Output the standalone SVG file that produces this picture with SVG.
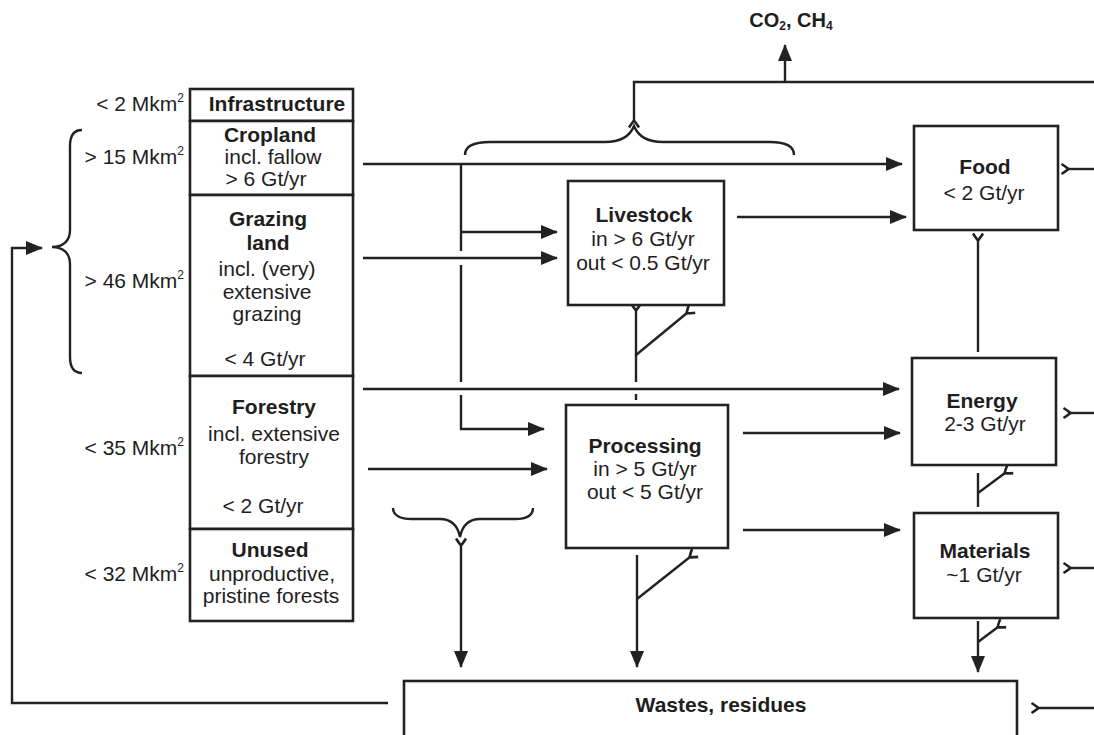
<svg xmlns="http://www.w3.org/2000/svg" width="1094" height="735" viewBox="0 0 1094 735">
<style>
text{font-family:"Liberation Sans",Arial,sans-serif;font-size:21px;fill:#1e1e1e;text-anchor:middle}
.b{font-weight:bold}
.lab{text-anchor:end}
.box{fill:#fff;stroke:#222;stroke-width:2.6}
.ln{fill:none;stroke:#222;stroke-width:2.4}
.ar{marker-end:url(#ah)}
.tl{marker-start:url(#tail)}
</style>
<defs>
<marker id="ah" markerUnits="userSpaceOnUse" markerWidth="20" markerHeight="16" refX="16" refY="7" orient="auto" overflow="visible">
<path d="M0,0 L17,7 L0,14 z" fill="#222"/>
</marker>
<marker id="tail" markerUnits="userSpaceOnUse" markerWidth="12" markerHeight="12" refX="8" refY="6" orient="auto" overflow="visible">
<path d="M1.5,1 Q5.5,3.5 8.5,6 Q5.5,8.5 1.5,11" fill="none" stroke="#222" stroke-width="2.6"/>
</marker>
</defs>

<g id="connectors">
<!-- return loop -->
<path class="ln ar" d="M388,703 H12 V248 H42"/>
<!-- left brace -->
<path class="ln" d="M82,130 C74,130 70,136 70,146 L70,230 C70,241 63,247 52,247 C63,247 70,253 70,264 L70,357 C70,367 74,373 82,373"/>
<!-- cropland to food -->
<path class="ln ar" d="M363,164 H902"/>
<path class="ln" d="M461,164 V251"/>
<path class="ln" d="M461,265 V382"/>
<path class="ln ar" d="M461,395 V429 H544"/>
<path class="ln ar" d="M461,232 H557"/>
<!-- grazing to livestock -->
<path class="ln ar" d="M363,258 H557"/>
<!-- livestock to food -->
<path class="ln ar" d="M737,217 H906"/>
<!-- forestry to energy -->
<path class="ln ar" d="M363,389 H899"/>
<!-- forestry to processing -->
<path class="ln ar" d="M368,469 H547"/>
<!-- processing to energy/materials -->
<path class="ln ar" d="M743,433 H900"/>
<path class="ln ar" d="M743,530 H900"/>
<!-- livestock bottom -->
<path class="ln tl" d="M636,310 V382"/>
<path class="ln" d="M636,394 V400"/>
<path class="ln tl" d="M687,313 L636,355"/>
<!-- food to energy -->
<path class="ln tl" d="M978,240 V352"/>
<!-- energy to materials -->
<path class="ln" d="M978,473 V507"/>
<path class="ln tl" d="M1005,473 L978,493"/>
<!-- materials to wastes -->
<path class="ln ar" d="M978,621 V672"/>
<path class="ln tl" d="M998,627 L978,642"/>
<!-- processing to wastes -->
<path class="ln ar" d="M637,555 V667"/>
<path class="ln tl" d="M690,557 L637,599"/>
<!-- bottom brace to wastes -->
<path class="ln" d="M393,508 C393,515 400,519 412,519 L440,519 C452,519 458,527 460,537 C462,527 468,519 480,519 L515,519 C527,519 533,515 533,508"/>
<path class="ln ar tl" d="M461,545 V667"/>
<!-- top brace and emissions -->
<path class="ln" d="M465,155 C465,146 474,142 490,142 L605,142 C622,142 630,136 634,126 C638,136 646,142 663,142 L770,142 C786,142 794,146 794,155"/>
<path class="ln tl" d="M634,121 V82 H1094"/>
<path class="ln ar" d="M785,82 V45"/>
<!-- right outflows -->
<path class="ln tl" d="M1068,169 H1094"/>
<path class="ln tl" d="M1070,413 H1094"/>
<path class="ln tl" d="M1070,568 H1094"/>
<path class="ln tl" d="M1038,708 H1094"/>
</g>

<g id="emissions">
<text class="b" x="791" y="27" style="font-size:20px">CO<tspan style="font-size:12px" dy="3">2</tspan><tspan dy="-3">, CH</tspan><tspan style="font-size:12px" dy="3">4</tspan></text>
</g>

<g id="infrastructure">
<rect class="box" x="190" y="89" width="163" height="32"/>
<text class="b" x="277" y="111">Infrastructure</text>
<text class="lab" x="184" y="111">&lt; 2 Mkm<tspan style="font-size:12px" dy="-9">2</tspan></text>
</g>
<g id="cropland">
<rect class="box" x="190" y="121" width="163" height="74"/>
<text class="b" x="270" y="142">Cropland</text>
<text x="273" y="164">incl. fallow</text>
<text x="266" y="186">&gt; 6 Gt/yr</text>
<text class="lab" x="184" y="164">&gt; 15 Mkm<tspan style="font-size:12px" dy="-9">2</tspan></text>
</g>
<g id="grazing">
<rect class="box" x="190" y="195" width="163" height="181"/>
<text class="b" x="268" y="226">Grazing</text>
<text class="b" x="268" y="250">land</text>
<text x="267" y="276">incl. (very)</text>
<text x="267" y="299">extensive</text>
<text x="267" y="321">grazing</text>
<text x="265" y="366">&lt; 4 Gt/yr</text>
<text class="lab" x="184" y="288">&gt; 46 Mkm<tspan style="font-size:12px" dy="-9">2</tspan></text>
</g>
<g id="forestry">
<rect class="box" x="190" y="376" width="163" height="153"/>
<text class="b" x="274" y="414">Forestry</text>
<text x="274" y="441">incl. extensive</text>
<text x="274" y="464">forestry</text>
<text x="263" y="513">&lt; 2 Gt/yr</text>
<text class="lab" x="184" y="455">&lt; 35 Mkm<tspan style="font-size:12px" dy="-9">2</tspan></text>
</g>
<g id="unused">
<rect class="box" x="190" y="529" width="163" height="92"/>
<text class="b" x="270" y="557">Unused</text>
<text x="272" y="581">unproductive,</text>
<text x="271" y="603">pristine forests</text>
<text class="lab" x="184" y="581">&lt; 32 Mkm<tspan style="font-size:12px" dy="-9">2</tspan></text>
</g>

<g id="livestock">
<rect class="box" x="568" y="181" width="156" height="124"/>
<text class="b" x="644" y="222">Livestock</text>
<text x="643" y="246">in &gt; 6 Gt/yr</text>
<text x="643" y="270">out &lt; 0.5 Gt/yr</text>
</g>
<g id="processing">
<rect class="box" x="566" y="405" width="162" height="143"/>
<text class="b" x="645" y="453">Processing</text>
<text x="645" y="476">in &gt; 5 Gt/yr</text>
<text x="645" y="499">out &lt; 5 Gt/yr</text>
</g>
<g id="food">
<rect class="box" x="914" y="126" width="144" height="104"/>
<text class="b" x="985" y="174">Food</text>
<text x="984" y="200">&lt; 2 Gt/yr</text>
</g>
<g id="energy">
<rect class="box" x="912" y="358" width="144" height="107"/>
<text class="b" x="982" y="408">Energy</text>
<text x="985" y="431">2-3 Gt/yr</text>
</g>
<g id="materials">
<rect class="box" x="914" y="513" width="144" height="105"/>
<text class="b" x="985" y="558">Materials</text>
<text x="984" y="582">~1 Gt/yr</text>
</g>
<g id="wastes">
<rect class="box" x="404" y="681" width="613" height="80"/>
<text class="b" x="721" y="712">Wastes, residues</text>
</g>
</svg>
